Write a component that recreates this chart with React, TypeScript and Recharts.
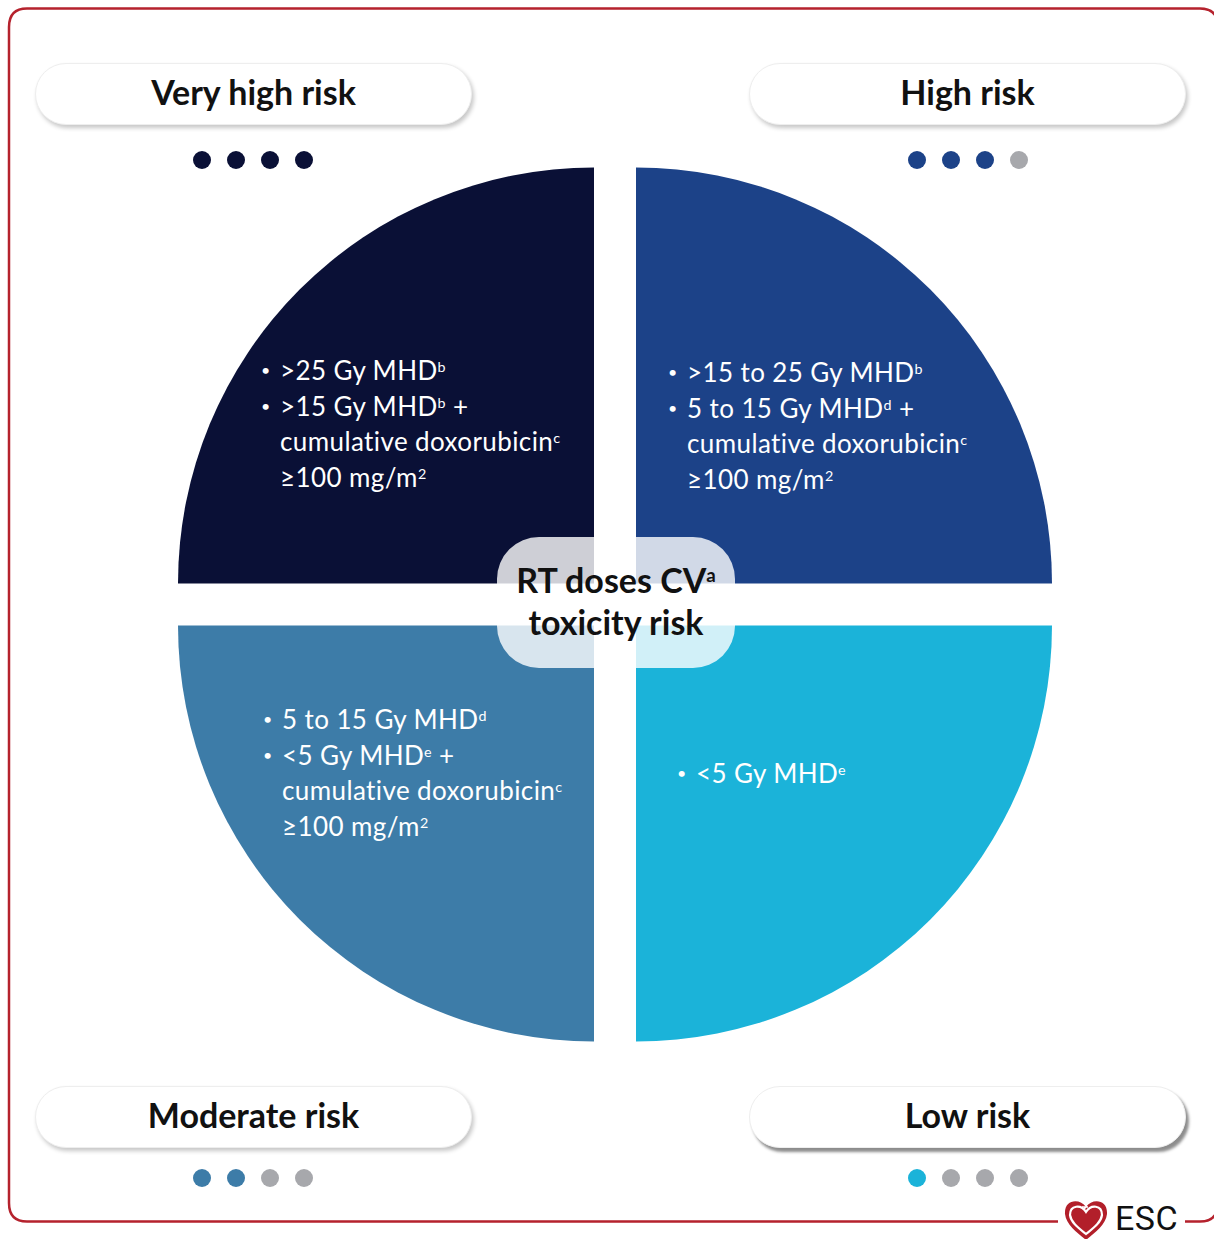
import React from "react"
import { PieChart, Pie, Cell } from "recharts"

// one quadrant per risk level, all the same share of the circle
const riskLevels = ["Very high risk", "High risk", "Moderate risk", "Low risk"]
const riskScore = [4, 3, 2, 1]
const quadrantShare = [1, 1, 1, 1]
const riskColors = ["#0a1036", "#1c4288", "#3d7ca8", "#1bb3d9"]

const veryHighCriteria = [
    "• >25 Gy MHD^b",
    "• >15 Gy MHD^b +",
    "cumulative doxorubicin^c",
    "≥100 mg/m^2"
]
const highCriteria = [
    "• >15 to 25 Gy MHD^b",
    "• 5 to 15 Gy MHD^d +",
    "cumulative doxorubicin^c",
    "≥100 mg/m^2"
]
const moderateCriteria = [
    "• 5 to 15 Gy MHD^d",
    "• <5 Gy MHD^e +",
    "cumulative doxorubicin^c",
    "≥100 mg/m^2"
]
const lowCriteria = ["• <5 Gy MHD^e"]
const criteria = [veryHighCriteria, highCriteria, moderateCriteria, lowCriteria]

const centerTitle = ["RT doses CV^a", "toxicity risk"]

const W = 1214
const H = 1239
const R = 416
const GAP = 21
const CX = 615
const CY = 604.5

// quadrant layout: offset of the corner and the angle span
const quads = [
    { dx: -1, dy: -1, start: 90, end: 180 },
    { dx: 1, dy: -1, start: 0, end: 90 },
    { dx: -1, dy: 1, start: 180, end: 270 },
    { dx: 1, dy: 1, start: 270, end: 360 }
]

const pills = [
    { left: 35, top: 63, dotsX: 202, dotsY: 160 },
    { left: 749, top: 63, dotsX: 917, dotsY: 160 },
    { left: 35, top: 1086, dotsX: 202, dotsY: 1178 },
    { left: 749, top: 1086, dotsX: 917, dotsY: 1178 }
]

const textBlocks = [
    { left: 261, top: 353 },
    { left: 668, top: 355 },
    { left: 263, top: 702 },
    { left: 677, top: 756 }
]

const FONT = "Lato, 'Open Sans', sans-serif"

function withSup(s: string, supShift = 8) {
    const parts = s.split(/\^(\w)/)
    return parts.map((p, i) =>
        i % 2 === 1 ? (
            <span
                key={i}
                style={{ fontSize: "0.55em", verticalAlign: supShift, lineHeight: 0 }}
            >
                {p}
            </span>
        ) : (
            <React.Fragment key={i}>{p}</React.Fragment>
        )
    )
}

function CriteriaLine({ text }: { text: string }) {
    const bullet = text.startsWith("• ")
    const body = bullet ? text.slice(2) : text
    return (
        <div style={{ position: "relative", paddingLeft: 19, whiteSpace: "nowrap" }}>
            {bullet && (
                <span style={{ position: "absolute", left: 0, top: -1, fontSize: 16 }}>•</span>
            )}
            {withSup(body)}
        </div>
    )
}

function EscLogo() {
    return (
        <div style={{ position: "absolute", left: 1062, top: 1199, width: 130, height: 40 }}>
            <svg width={50} height={40} style={{ position: "absolute", left: 0, top: 0 }}>
                <path
                    d="M24 8 C 18 -1, 2 0, 3 15 C 4 26, 16 34, 24 41 C 32 34, 44 26, 45 15 C 46 0, 30 -1, 24 8 Z"
                    fill="#b21f2a"
                />
                <path
                    d="M24 13 C 19 5, 8 6, 8 16 C 9 24, 18 30, 24 35 C 30 30, 39 24, 40 16 C 40 6, 29 5, 24 13 Z"
                    fill="none"
                    stroke="#fff"
                    strokeWidth={2.2}
                />
                <path d="M22 10 l3 -3 M20 8 h6" stroke="#fff" strokeWidth={1.6} />
            </svg>
            <div
                style={{
                    position: "absolute",
                    left: 53,
                    top: 1,
                    fontFamily: "Roboto, sans-serif",
                    fontSize: 34,
                    lineHeight: "36px",
                    letterSpacing: 0.5,
                    color: "#111"
                }}
            >
                ESC
            </div>
        </div>
    )
}

export default function App() {
    return (
        <div
            style={{
                position: "absolute",
                left: 0,
                top: 0,
                width: W,
                height: H,
                background: "#fff",
                overflow: "hidden",
                fontFamily: FONT
            }}
        >
            <PieChart width={W} height={H} margin={{ top: 0, right: 0, bottom: 0, left: 0 }}>
                {riskLevels.map((name, i) => (
                    <Pie
                        key={name}
                        data={[{ name, value: quadrantShare[i] }]}
                        dataKey="value"
                        cx={CX + quads[i].dx * GAP}
                        cy={CY + quads[i].dy * GAP}
                        outerRadius={R}
                        innerRadius={0}
                        startAngle={quads[i].start}
                        endAngle={quads[i].end}
                        stroke="none"
                        label={false}
                        labelLine={false}
                        isAnimationActive={false}
                    >
                        <Cell fill={riskColors[i]} />
                    </Pie>
                ))}
            </PieChart>

            <svg
                width={W}
                height={H}
                style={{ position: "absolute", left: 0, top: 0, pointerEvents: "none" }}
            >
                <path
                    d="M1185 1221.5 H1200 Q1218 1221.5 1218 1203 V27 Q1218 8.5 1200 8.5 H27 Q9 8.5 9 27 V1203 Q9 1221.5 27 1221.5 H1058"
                    fill="none"
                    stroke="#b5222d"
                    strokeWidth={2.5}
                />
            </svg>

            {riskLevels.map((name, i) => (
                <React.Fragment key={name}>
                    <div
                        style={{
                            position: "absolute",
                            left: pills[i].left,
                            top: pills[i].top,
                            width: 437,
                            height: 62,
                            borderRadius: 31,
                            background: "#fff",
                            border: "1px solid #eeeeee",
                            boxSizing: "border-box",
                            boxShadow:
                                i === 3
                                    ? "3px 4px 3px rgba(0,0,0,0.45)"
                                    : "2px 3px 4px rgba(0,0,0,0.22)",
                            display: "flex",
                            alignItems: "center",
                            justifyContent: "center",
                            paddingBottom: 5,
                            fontWeight: 700,
                            fontSize: 34,
                            color: "#111"
                        }}
                    >
                        {name}
                    </div>
                    {[0, 1, 2, 3].map((k) => (
                        <div
                            key={k}
                            style={{
                                position: "absolute",
                                left: pills[i].dotsX + k * 34 - 9,
                                top: pills[i].dotsY - 9,
                                width: 18,
                                height: 18,
                                borderRadius: 9,
                                background: k < riskScore[i] ? riskColors[i] : "#a7a8ac"
                            }}
                        />
                    ))}
                    <div
                        style={{
                            position: "absolute",
                            left: textBlocks[i].left,
                            top: textBlocks[i].top,
                            color: "#fff",
                            fontSize: 26,
                            letterSpacing: 0.4,
                            lineHeight: "35.5px"
                        }}
                    >
                        {criteria[i].map((line, j) => (
                            <CriteriaLine key={j} text={line} />
                        ))}
                    </div>
                </React.Fragment>
            ))}

            <div
                style={{
                    position: "absolute",
                    left: 497,
                    top: 537,
                    width: 238,
                    height: 131,
                    borderRadius: 42,
                    background: "rgba(255,255,255,0.8)",
                    display: "flex",
                    flexDirection: "column",
                    alignItems: "center",
                    justifyContent: "center",
                    paddingBottom: 4,
                    boxSizing: "border-box",
                    fontWeight: 700,
                    fontSize: 34,
                    lineHeight: "42px",
                    color: "#111"
                }}
            >
                {centerTitle.map((t, i) => (
                    <div key={i} style={{ whiteSpace: "nowrap" }}>
                        {withSup(t, 11)}
                    </div>
                ))}
            </div>

            <EscLogo />
        </div>
    )
}
